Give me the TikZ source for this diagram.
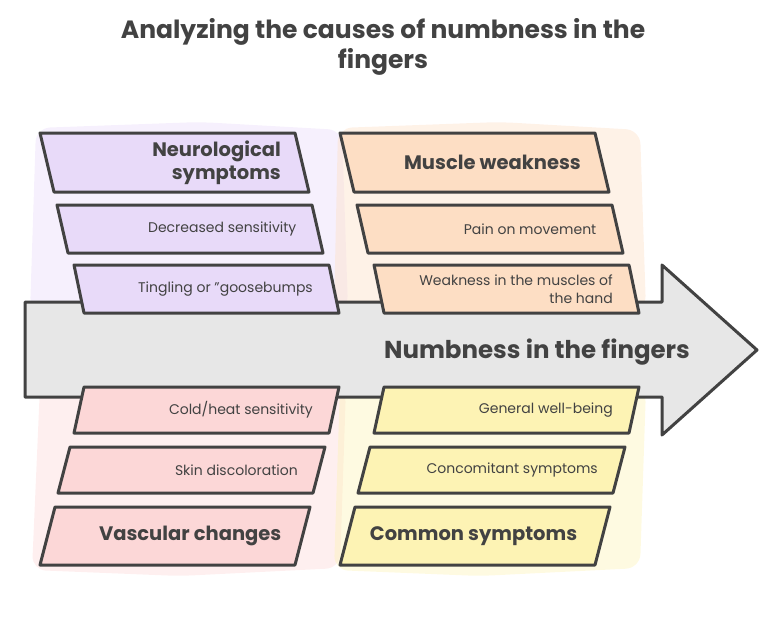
\documentclass[tikz,border=0pt]{standalone}
\usepackage{fontspec}
\setmainfont{Poppins}
\definecolor{inkgray}{HTML}{424242}
\definecolor{spinegray}{HTML}{E7E7E7}
\definecolor{purp}{HTML}{E8DAF9}
\definecolor{orng}{HTML}{FDDEC4}
\definecolor{pink}{HTML}{FCD7D7}
\definecolor{yell}{HTML}{FDF3B4}
\begin{document}
\begin{tikzpicture}[x=1pt, y=-1pt]
    % Define styles
    \tikzset{
        outline/.style={
            draw=inkgray,
            line width=3pt,
            line join=round
        },
        headtext/.style={
            font=\bfseries\fontsize{19.5}{23}\selectfont,
            text=inkgray,
            align=right,
            anchor=east,
            inner sep=0pt
        },
        itemtext/.style={
            font=\fontsize{14}{18}\selectfont,
            text=inkgray,
            align=right,
            anchor=east,
            inner sep=0pt
        },
        blob/.style={
            opacity=0.4,
            rounded corners=14pt
        }
    }
    \useasboundingbox (0,0) rectangle (784,616);

    % Title
    \node[font=\bfseries\fontsize{25}{30}\selectfont, text=inkgray, align=center]
        (title) at (383,47) {Analyzing the causes of numbness in the\\fingers};

    % Colour spill behind each column
    \fill[purp, blob] (36,128) -- (200,122) -- (342,130) -- (348,310) -- (190,316) -- (30,312) -- cycle;
    \fill[orng, blob] (338,128) -- (500,122) -- (640,130) -- (646,310) -- (490,316) -- (334,312) -- cycle;
    \fill[pink, blob] (40,386) -- (200,380) -- (346,388) -- (340,568) -- (180,576) -- (32,570) -- cycle;
    \fill[yell, blob] (340,386) -- (500,380) -- (646,388) -- (640,568) -- (480,576) -- (334,570) -- cycle;

    % Spine arrow
    \draw[outline, fill=spinegray] (25,302) -- (662,302) -- (662,265) -- (757,350)
        -- (662,435) -- (662,397) -- (25,397) -- cycle;
    \node[font=\bfseries\fontsize{24.5}{28}\selectfont, text=inkgray] (effect) at (537,352)
        {Numbness in the fingers};

    % Cause boxes: name / left x / top y / height / slant / colour / style / text
    \foreach \id/\xl/\yt/\h/\s/\col/\kind/\txt in {
        neuro/40/133/59/14/purp/headtext/{Neurological\\symptoms},
        decsens/57/205/48/11/purp/itemtext/{Decreased sensitivity},
        tingle/74/265/48/10/purp/itemtext/{Tingling or \symbol{34}goosebumps},
        muscle/340/133/59/14/orng/headtext/{Muscle weakness},
        pain/357/205/48/11/orng/itemtext/{Pain on movement},
        handweak/374/265/48/10/orng/itemtext/{Weakness in the muscles of\\the hand},
        coldheat/84/387/46/-10/pink/itemtext/{Cold/heat sensitivity},
        skin/70/447/46/-12/pink/itemtext/{Skin discoloration},
        vascular/55/507/58/-15/pink/headtext/{Vascular changes},
        wellbeing/384/387/46/-10/yell/itemtext/{General well-being},
        concom/370/447/46/-12/yell/itemtext/{Concomitant symptoms},
        common/355/507/58/-15/yell/headtext/{Common symptoms}
    }{
        \draw[outline, fill=\col] (\xl,\yt) -- ++(255,0) -- ++(\s,\h) -- ++(-255,0) -- cycle;
        \node[\kind] (\id) at ({\xl+234+\s/2},{\yt+\h/2}) {\txt};
    }

\end{tikzpicture}
\end{document}
